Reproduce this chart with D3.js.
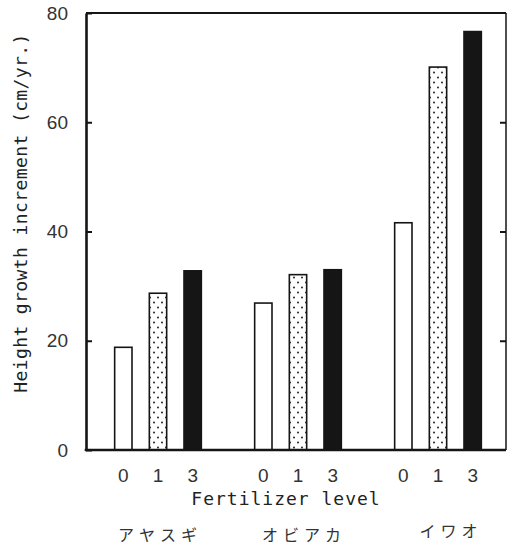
<!DOCTYPE html>
<html>
<head>
<meta charset="utf-8">
<script src="https://cdn.jsdelivr.net/npm/d3@7"></script>
<style>
  body { margin: 0; background: #fff; }
  svg { display: block; }
  .mono { font-family: "DejaVu Sans Mono", monospace; fill: #222; }
  .num { font-family: "Liberation Sans", Arial, sans-serif; fill: #333; }
  .jp { font-family: "Noto Sans CJK JP", sans-serif; fill: #333; }
</style>
</head>
<body>
<svg width="513" height="547"></svg>
<script>
// species and fertilizer levels
var species = ["アヤスギ", "オビアカ", "イワオ"];
var levels = ["0", "1", "3"];
// height growth increment (cm/yr.)
var level0 = [18.8, 26.9, 41.6];
var level1 = [28.7, 32.1, 70.1];
var level3 = [32.8, 33.0, 76.6];
var yTicks = [0, 20, 40, 60, 80];

var svg = d3.select("svg"),
    plotL = 86, plotR = 506, plotT = 13, plotB = 450;

var rows = [];
species.forEach(function(s, i) {
    rows.push({sp: s, lv: "0", v: level0[i]});
    rows.push({sp: s, lv: "1", v: level1[i]});
    rows.push({sp: s, lv: "3", v: level3[i]});
});

var x0 = d3.scaleBand().domain(species).range([88, 508]);
var x1 = d3.scaleBand().domain(levels).range([18, 122]).paddingInner(0.5).paddingOuter(0.25);
var y = d3.scaleLinear().domain([0, 80]).range([plotB, plotT]);

// dotted fill
var defs = svg.append("defs");
var pat = defs.append("pattern")
    .attr("id", "dots")
    .attr("patternUnits", "userSpaceOnUse")
    .attr("width", 8).attr("height", 10);
pat.append("rect").attr("width", 8).attr("height", 10).attr("fill", "#fff");
pat.append("circle").attr("cx", 2).attr("cy", 2.5).attr("r", 1).attr("fill", "#222");
pat.append("circle").attr("cx", 6).attr("cy", 7.5).attr("r", 1).attr("fill", "#222");

var fills = {"0": "#fff", "1": "url(#dots)", "3": "#151515"};

svg.append("g")
    .selectAll("rect")
    .data(rows)
    .enter()
    .append("rect")
    .attr("x", function(d) { return x0(d.sp) + x1(d.lv); })
    .attr("y", function(d) { return y(d.v); })
    .attr("width", x1.bandwidth())
    .attr("height", function(d) { return plotB - y(d.v); })
    .attr("fill", function(d) { return fills[d.lv]; })
    .attr("stroke", "#151515")
    .attr("stroke-width", 1.6);

// frame
svg.append("line").attr("x1", plotL).attr("x2", plotR).attr("y1", plotT).attr("y2", plotT)
    .attr("stroke", "#151515").attr("stroke-width", 2.2);
svg.append("line").attr("x1", plotR).attr("x2", plotR).attr("y1", plotT).attr("y2", plotB)
    .attr("stroke", "#151515").attr("stroke-width", 1.5);

// y axis (ticks inward)
var yAxis = svg.append("g")
    .attr("transform", "translate(" + plotL + ",0)")
    .call(d3.axisLeft(y).tickValues(yTicks).tickSizeInner(-6).tickSizeOuter(0).tickPadding(18));
yAxis.select(".domain").attr("stroke", "#151515").attr("stroke-width", 2.6);
yAxis.selectAll(".tick line").attr("stroke", "#151515").attr("stroke-width", 2);
yAxis.selectAll(".tick text").attr("class", "num").attr("font-size", 19).attr("fill", "#333");

var yRight = svg.append("g")
    .attr("transform", "translate(" + plotR + ",0)")
    .call(d3.axisRight(y).tickValues([20, 40, 60]).tickSizeInner(-6).tickSizeOuter(0).tickFormat(""));
yRight.select(".domain").remove();
yRight.selectAll(".tick line").attr("stroke", "#151515").attr("stroke-width", 2);

// bottom axis line
svg.append("line").attr("x1", plotL - 1.3).attr("x2", plotR).attr("y1", plotB).attr("y2", plotB)
    .attr("stroke", "#151515").attr("stroke-width", 2.6);

// level labels
svg.append("g")
    .selectAll("text")
    .data(rows)
    .enter()
    .append("text")
    .attr("class", "num")
    .attr("font-size", 19)
    .attr("text-anchor", "middle")
    .attr("x", function(d) { return x0(d.sp) + x1(d.lv) + x1.bandwidth() / 2; })
    .attr("y", 482)
    .text(function(d) { return d.lv; });

svg.append("text")
    .attr("class", "mono")
    .attr("font-size", 18)
    .attr("letter-spacing", 1)
    .attr("text-anchor", "middle")
    .attr("x", 286).attr("y", 505)
    .text("Fertilizer level");

var nameDx = [2, 6, 13], nameDy = [0, 0, -4];
svg.append("g")
    .selectAll("text")
    .data(species)
    .enter()
    .append("text")
    .attr("class", "jp")
    .attr("font-size", 16)
    .attr("letter-spacing", 5)
    .attr("text-anchor", "middle")
    .attr("x", function(d, i) { return x0(d) + x0.bandwidth() / 2 + nameDx[i]; })
    .attr("y", function(d, i) { return 541 + nameDy[i]; })
    .text(function(d) { return d; });

svg.append("text")
    .attr("class", "mono")
    .attr("font-size", 18)
    .attr("letter-spacing", 0.4)
    .attr("text-anchor", "middle")
    .attr("transform", "translate(27,213) rotate(-90)")
    .text("Height growth increment (cm/yr.)");
</script>
</body>
</html>
